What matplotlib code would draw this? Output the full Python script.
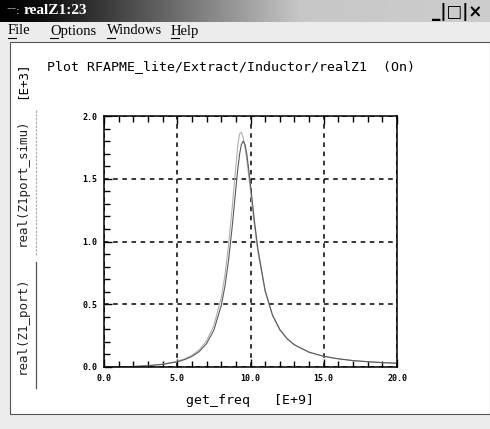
import numpy as np
import matplotlib.pyplot as plt
from matplotlib.lines import Line2D
from matplotlib.patches import Rectangle

# frequency in GHz, real part in kOhm
freq = [0, 1, 2, 3, 4, 5, 5.5, 6, 6.5, 7, 7.5, 8, 8.25, 8.5, 8.75, 9,
        9.125, 9.25, 9.375, 9.5, 9.625, 9.75, 10, 10.25, 10.5, 11, 11.5,
        12, 12.5, 13, 14, 15, 16, 17, 18, 19, 20]
real_port = [0.0, 0.001, 0.004, 0.010, 0.021, 0.041, 0.059, 0.084, 0.123,
             0.186, 0.294, 0.488, 0.641, 0.849, 1.117, 1.422, 1.57, 1.692,
             1.772, 1.80, 1.773, 1.697, 1.454, 1.183, 0.944, 0.609, 0.415,
             0.299, 0.226, 0.177, 0.118, 0.085, 0.065, 0.051, 0.042, 0.035,
             0.030]
real_simu = [0.0, 0.001, 0.0045, 0.011, 0.023, 0.046, 0.065, 0.093, 0.137,
             0.208, 0.33, 0.55, 0.73, 0.97, 1.27, 1.60, 1.76, 1.855, 1.87,
             1.83, 1.75, 1.65, 1.40, 1.14, 0.92, 0.60, 0.41, 0.295, 0.224,
             0.175, 0.117, 0.085, 0.065, 0.051, 0.042, 0.035, 0.030]

W, H = 490, 429
mono = 'DejaVu Sans Mono'


def fx(px):
    return px / W


def fy(py):
    return 1 - py / H


fig = plt.figure(figsize=(4.9, 4.29), dpi=100)
fig.patch.set_facecolor('#ececec')

# window title bar
axt = fig.add_axes([0, fy(22), 1, 22 / H])
xs = np.arange(W)
shade = np.interp(xs, [0, 40, 300, 490], [0.0, 0.05, 0.78, 0.80])
axt.imshow(np.tile(shade, (2, 1)), cmap='gray', vmin=0, vmax=1,
           aspect='auto', extent=[0, W, 0, 1])
axt.axis('off')
fig.text(fx(6), fy(11), '⁻⁻:', color='white', fontsize=7, va='center')
fig.text(fx(24), fy(11), 'realZ1:23', color='white', fontsize=11,
         family='Liberation Serif', va='center', weight='bold')
fig.text(fx(432), fy(12), '_|□|×', color='black', fontsize=12,
         family='DejaVu Sans', va='center', weight='bold')

# menu bar
menus = ['File', 'Options', 'Windows', 'Help']
menu_x = [8, 50, 107, 171]
for m, x in zip(menus, menu_x):
    fig.text(fx(x), fy(31), m, fontsize=10.5, family='Liberation Serif',
             va='center')
    fig.add_artist(Line2D([fx(x), fx(x + 8)], [fy(38), fy(38)],
                          color='black', lw=0.8))

# plot panel (behind the axes)
fig.add_artist(Rectangle((fx(10), fy(414)), fx(480), (414 - 42) / H,
                         facecolor='white', edgecolor='#555555', lw=0.8,
                         zorder=-5))

# left legend strip
fig.text(fx(22), fy(80), '[E+3]', rotation=90, family=mono, fontsize=9,
         ha='center', va='center')
fig.text(fx(22), fy(182), 'real(Z1port_simu)', rotation=90, family=mono,
         fontsize=9, ha='center', va='center', color='#222222')
fig.text(fx(22), fy(325), 'real(Z1_port)', rotation=90, family=mono,
         fontsize=9, ha='center', va='center', color='#222222')
fig.add_artist(Line2D([fx(36), fx(36)], [fy(110), fy(255)],
                      color='#b0b0b0', lw=0.9, ls=(0, (2, 1))))
fig.add_artist(Line2D([fx(36), fx(36)], [fy(262), fy(388)],
                      color='#555555', lw=0.9))

fig.text(fx(47), fy(67), 'Plot RFAPME_lite/Extract/Inductor/realZ1  (On)',
         family=mono, fontsize=9.5, va='center')

# main axes
ax = fig.add_axes([fx(104), fy(367), fx(397) - fx(104), (367 - 116) / H])
ax.set_facecolor('none')
ax.plot(freq, real_simu, color='#b0b0b0', lw=0.8)
ax.plot(freq, real_port, color='#5a5a5a', lw=0.8)
ax.set_xlim(0, 20)
ax.set_ylim(0, 2.0)
ax.set_xticks([0, 5, 10, 15, 20])
ax.set_xticklabels(['0.0', '5.0', '10.0', '15.0', '20.0'])
ax.set_yticks([0, 0.5, 1.0, 1.5, 2.0])
ax.set_yticklabels(['0.0', '0.5', '1.0', '1.5', '2.0'])
ax.set_xticks(np.arange(0, 21, 1), minor=True)
ax.set_yticks(np.arange(0, 2.01, 0.1), minor=True)
ax.tick_params(which='both', direction='in', top=True, right=False,
               labelsize=6, width=1.0)
ax.tick_params(which='major', length=6, pad=5)
ax.tick_params(which='minor', length=4)
for lab in ax.get_xticklabels() + ax.get_yticklabels():
    lab.set_family(mono)
    lab.set_weight('bold')
ax.grid(True, which='major', color='black', ls=(0, (3, 3)), lw=1.1)
for s in ax.spines.values():
    s.set_linewidth(1.1)
ax.set_xlabel('get_freq   [E+9]', family=mono, fontsize=9.5, labelpad=8)

fig.savefig('out.png', dpi=100, facecolor=fig.get_facecolor())
